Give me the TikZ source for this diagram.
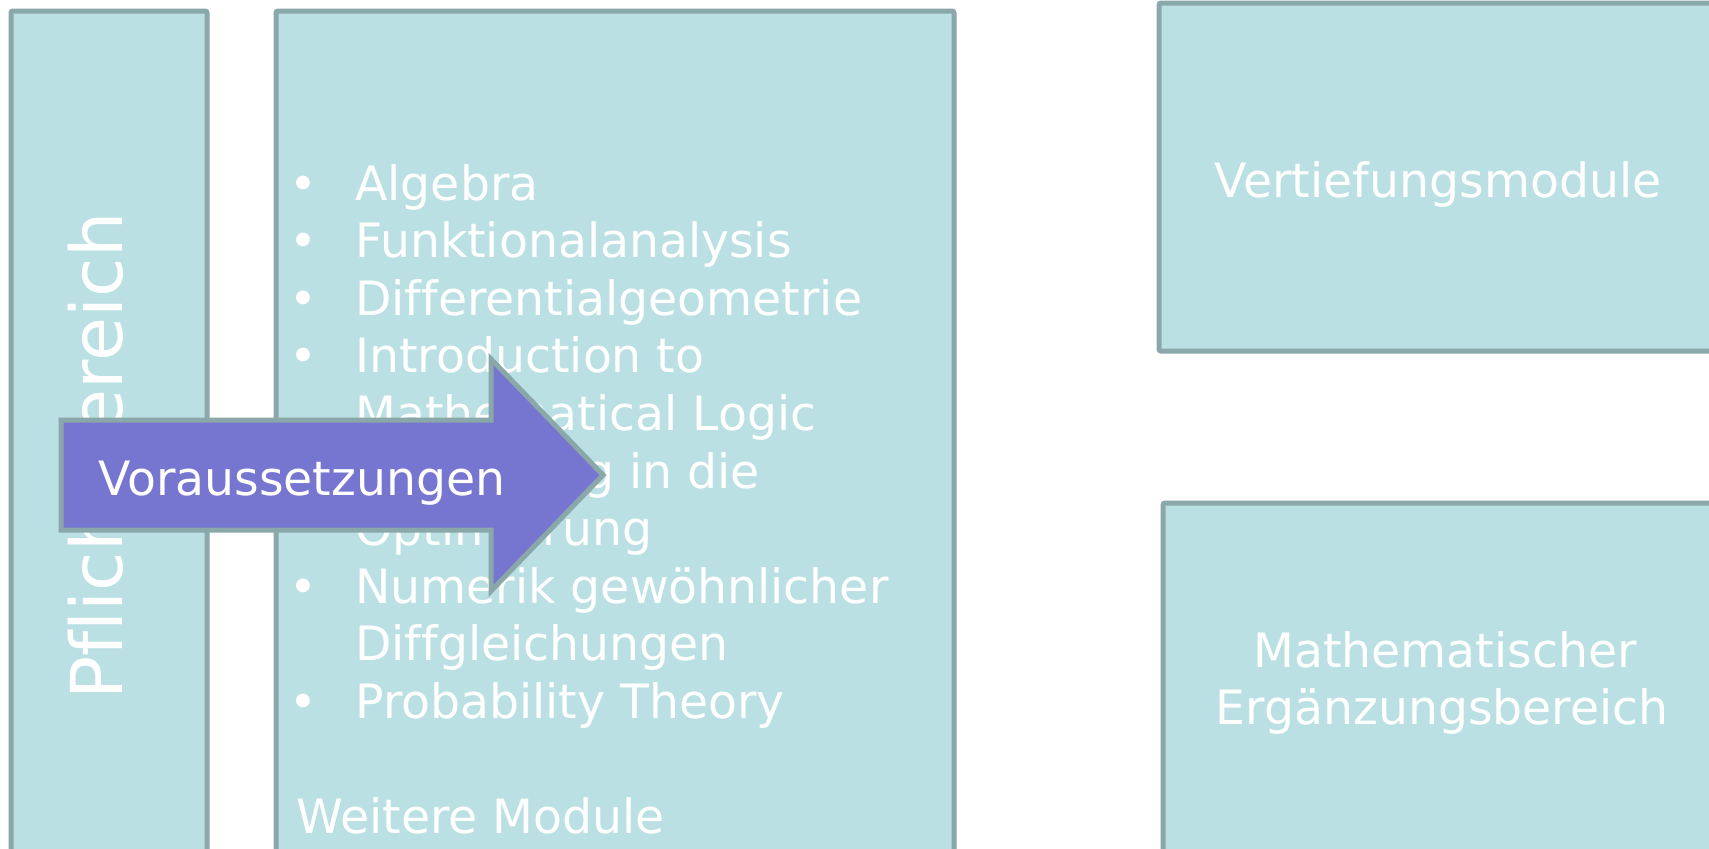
\documentclass[tikz,border=0pt]{standalone}
\usepackage{fontspec}
\setmainfont{DejaVu Sans}[Ligatures=NoCommon]
\definecolor{boxfill}{HTML}{BBE0E3}
\definecolor{boxline}{HTML}{8AA7A9}
\definecolor{arrowfill}{HTML}{7676D1}
\tikzset{
  modbox/.style={rectangle, draw=boxline, fill=boxfill, line width=2.5pt, rounded corners=1pt, inner sep=0pt},
  modtext/.style={text=white, inner sep=0pt, font=\fontsize{23.65}{28.5}\selectfont},
  arrowshape/.style={draw=boxline, fill=arrowfill, line width=2.5pt, line join=miter},
}
\begin{document}
\begin{tikzpicture}[x=0.5pt,y=-0.5pt]
\useasboundingbox (0,0) rectangle (1709,848);
\fill[white] (0,0) rectangle (1709,848);
\clip (0,0) rectangle (1709,848);
% boxes
\node [modbox, minimum width=98pt, minimum height=430pt] (pflicht) at (109,441) {};
\node [modbox, minimum width=339pt, minimum height=430pt] (wahl) at (615,441) {};
\node [modbox, minimum width=279pt, minimum height=174pt] (vertief) at (1438,177) {};
\node [modbox, minimum width=279pt, minimum height=184pt] (ergaenz) at (1442,687) {};
% Pflichtbereich
\node [modtext, font=\fontsize{35.8}{40}\selectfont, rotate=90, anchor=base] (pflichttext) at (122,456) {Pflichtbereich};
% bullet list
\node [modtext, anchor=base] (b1) at (303,200) {•};
\node [modtext, anchor=base] (b2) at (303,257.6) {•};
\node [modtext, anchor=base] (b3) at (303,315.2) {•};
\node [modtext, anchor=base] (b4) at (303,372.8) {•};
\node [modtext, anchor=base] (b6) at (303,488) {•};
\node [modtext, anchor=base] (b8) at (303,603.2) {•};
\node [modtext, anchor=base] (b10) at (303,718.4) {•};
\node [modtext, anchor=base west] (l1) at (355,200) {Algebra};
\node [modtext, anchor=base west] (l2) at (355,257.6) {Funktionalanalysis};
\node [modtext, anchor=base west] (l3) at (355,315.2) {Differentialgeometrie};
\node [modtext, anchor=base west] (l4) at (355,372.8) {Introduction to};
\node [modtext, anchor=base west] (l5) at (355,430.4) {Mathematical Logic};
\node [modtext, anchor=base west] (l6) at (355,488) {Einführung in die};
\node [modtext, anchor=base west] (l7) at (355,545.6) {Optimierung};
\node [modtext, anchor=base west] (l8) at (355,603.2) {Numerik gewöhnlicher};
\node [modtext, anchor=base west] (l9) at (355,660.8) {Diffgleichungen};
\node [modtext, anchor=base west] (l10) at (355,718.4) {Probability Theory};
\node [modtext, anchor=base west] (weitere) at (296,833.6) {Weitere Module};
% right side
\node [modtext, anchor=base] (vertieftext) at (1438,197) {Vertiefungsmodule};
\node [modtext, anchor=base] (mathtext) at (1445,667) {Mathematischer};
\node [modtext, anchor=base] (ergaenztext) at (1442,724) {Ergänzungsbereich};
% arrow
\draw [arrowshape] (61,420) -- (491,420) -- (491,359) -- (603,475) -- (491,591) -- (491,530) -- (61,530) -- cycle;
\node [modtext, anchor=base west] (voraus) at (98,495) {Voraussetzungen};
\end{tikzpicture}
\end{document}
